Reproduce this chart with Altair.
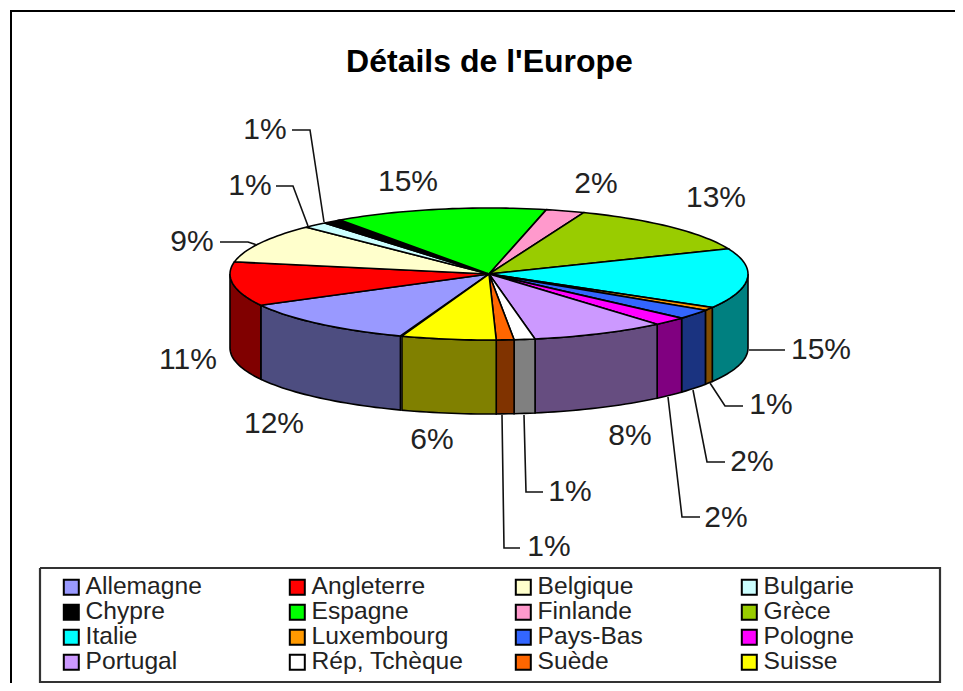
import math
import altair as alt

NAMES = ["Allemagne", "Angleterre", "Belgique", "Bulgarie", "Chypre", "Espagne", "Finlande", "Grèce",
         "Italie", "Luxembourg", "Pays-Bas", "Pologne", "Portugal", "Rép, Tchèque", "Suède", "Suisse"]
COLOURS = ["#9999ff", "#ff0000", "#ffffcc", "#ccffff", "#000000", "#00ff00", "#ff99cc", "#99cc00",
           "#00ffff", "#ff9900", "#3366ff", "#ff00ff", "#cc99ff", "#ffffff", "#ff6600", "#ffff00"]
# Visible share of each slice (percent)
SHARES = [11.6, 10.8, 9.6, 1.5, 1.2, 13.3, 2.4, 12.8, 14.7, 0.8, 2.4, 2.1, 8.4, 1.3, 1.1, 5.9]
# Printed labels
LABELS = ["12%", "11%", "9%", "1%", "1%", "15%", "2%", "13%", "15%", "1%", "2%", "2%", "8%", "1%", "1%", "6%"]

TITLE = "Détails de l'Europe"
START_DEG = 20.0
CX, CY, RX, RY, DEPTH = 489.0, 274.0, 259.0, 66.0, 74.0
LEFT, TOP, PAD_TOP, W, H = 8, 8, 72, 947, 603
ORIGIN_Y = TOP + PAD_TOP


def rim(t):
    r = math.radians(t)
    return [CX - RX * math.sin(r), CY + RY * math.cos(r)]


def arc(a, b, step=1.5):
    n = max(2, int(abs(b - a) / step) + 2)
    return [rim(a + (b - a) * i / (n - 1)) for i in range(n)]


def feature(name, colour, ring):
    ring = ring + [ring[0]]
    return {"type": "Feature", "properties": {"name": name, "colour": colour},
            "geometry": {"type": "Polygon", "coordinates": [ring]}}


def darker(c):
    return "#" + "".join(f"{int(c[i:i+2], 16) // 2 + (int(c[i:i+2], 16) % 2):02x}" for i in (1, 3, 5))


tops, walls = [], []
angle = START_DEG
for name, colour, share in zip(NAMES, COLOURS, SHARES):
    end = angle + share * 3.6
    tops.append(feature(name, colour, [[CX, CY]] + arc(angle, end)))
    for lo, hi in ((angle, end), (angle - 360, end - 360)):
        a, b = max(lo, -90), min(hi, 90)
        if b > a:
            edge = arc(a, b)
            walls.append(feature(name, darker(colour),
                                 edge + [[x, y + DEPTH] for x, y in reversed(edge)]))
    angle = end

LABEL_AT = [(274, 424), (188, 360), (192, 242), (250, 186), (265, 130), (408, 182), (596, 184), (716, 198),
            (821, 350), (771, 405), (752, 462), (726, 518), (630, 436), (570, 492), (549, 547), (432, 440)]
LEADERS = [
    [(220, 242), (248, 242), (257, 245)],
    [(276, 186), (293, 186), (308, 226)],
    [(292, 130), (310, 130), (324, 222)],
    [(749, 350), (785, 350)],
    [(710, 383), (725, 406), (743, 406)],
    [(693, 390), (707, 462), (725, 462)],
    [(668, 397), (682, 517), (700, 517)],
    [(524, 415), (526, 492), (543, 492)],
    [(502, 415), (504, 548), (520, 548)],
]
FRAME = [(955, 11), (11, 11), (11, 683)]
LEGEND_BOX = [(40, 568), (940, 568), (940, 682), (40, 682), (40, 568)]

x_scale = alt.Scale(domain=[LEFT, LEFT + W], range=[0, W], nice=False, zero=False)
y_scale = alt.Scale(domain=[ORIGIN_Y, ORIGIN_Y + H], range=[0, H], nice=False, zero=False)
X = alt.X("x:Q", scale=x_scale, axis=None)
Y = alt.Y("y:Q", scale=y_scale, axis=None)


def path_rows(paths):
    return [{"id": i, "n": j, "x": p[0], "y": p[1]} for i, path in enumerate(paths) for j, p in enumerate(path)]


proj = dict(type="identity", scale=1, translate=[-LEFT, -ORIGIN_Y])

wall_layer = alt.Chart(alt.Data(values=walls)).mark_geoshape(stroke="black", strokeWidth=1.6).encode(
    fill=alt.Fill("properties.colour:N", scale=None)
).project(**proj)

top_layer = alt.Chart(alt.Data(values=tops)).mark_geoshape(stroke="black", strokeWidth=1.6).encode(
    fill=alt.Fill("properties.name:N", sort=NAMES,
                  scale=alt.Scale(domain=NAMES, range=COLOURS),
                  legend=alt.Legend(title=None, orient="none", direction="horizontal", columns=4,
                                    legendX=51, legendY=495,
                                    padding=0, gridAlign="all", columnPadding=47, rowPadding=0,
                                    symbolType="square", symbolSize=225, symbolStrokeColor="black",
                                    symbolStrokeWidth=2, symbolOffset=0,
                                    labelFont="Liberation Sans", labelFontSize=24.6, labelColor="#222222",
                                    labelOffset=2, labelLimit=260))
).project(**proj)

leader_layer = alt.Chart(alt.Data(values=path_rows(LEADERS))).mark_line(
    color="#111111", strokeWidth=1.6).encode(x=X, y=Y, detail="id:N", order="n:Q")

box_layer = alt.Chart(alt.Data(values=path_rows([LEGEND_BOX]))).mark_line(
    color="#333333", strokeWidth=2.2, clip=False).encode(x=X, y=Y, detail="id:N", order="n:Q")

frame_layer = alt.Chart(alt.Data(values=path_rows([FRAME]))).mark_line(
    color="black", strokeWidth=2, clip=False).encode(x=X, y=Y, detail="id:N", order="n:Q")

label_rows = [{"x": p[0], "y": p[1], "label": t} for p, t in zip(LABEL_AT, LABELS)]
label_layer = alt.Chart(alt.Data(values=label_rows)).mark_text(
    font="Liberation Sans", fontSize=30, color="#222222", align="center", baseline="middle").encode(
    x=X, y=Y, text="label:N")

chart = alt.layer(wall_layer, top_layer, leader_layer, box_layer, frame_layer, label_layer).resolve_scale(
    fill="independent"
).properties(
    width=W, height=H,
    title=alt.TitleParams(TITLE, font="Liberation Sans", fontSize=32, fontWeight="bold", color="black",
                          anchor="middle", dx=8, offset=-72),
    background="white",
    padding={"left": 0, "right": 0, "top": PAD_TOP, "bottom": 0},
    autosize=alt.AutoSizeParams(type="none"),
).configure_view(stroke=None)

chart.save("out.html", embed_options={"renderer": "svg", "actions": False})
